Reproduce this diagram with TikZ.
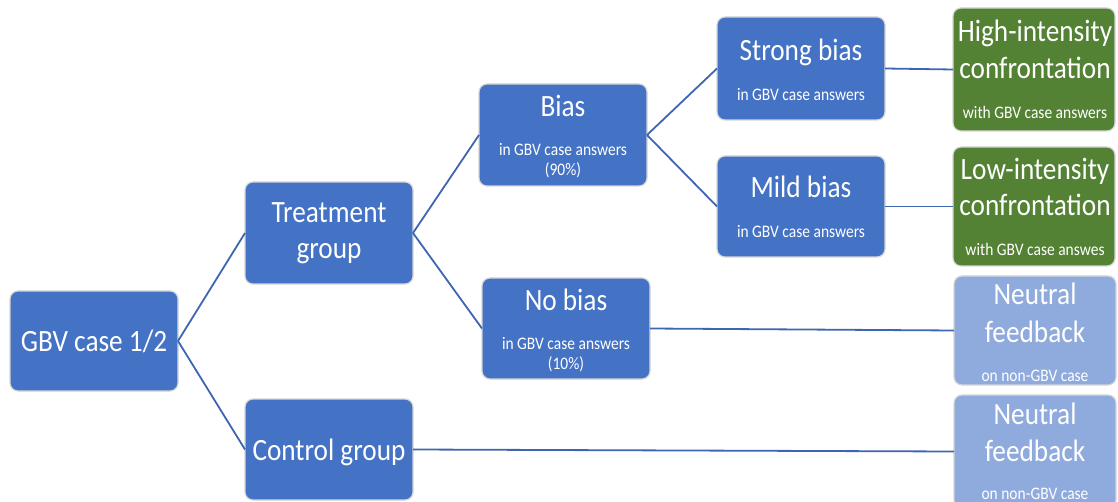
\documentclass[tikz,border=0pt]{standalone}
\usepackage{fontspec}
\setmainfont{Carlito}[FakeStretch=0.88]
\definecolor{boxblue}{HTML}{4472C4}
\definecolor{boxgreen}{HTML}{548235}
\definecolor{boxlight}{HTML}{8FAADC}
\definecolor{linkblue}{HTML}{3E66B0}
\definecolor{rim}{HTML}{D6D6D6}
\begin{document}
\begin{tikzpicture}[x=1pt,y=-1pt,
  box/.style={draw=rim, line width=1.2pt, rounded corners=8pt, fill=boxblue,
    inner sep=0pt, outer sep=0pt, minimum width=168pt},
  greenbox/.style={box, fill=boxgreen, minimum width=162pt},
  lightbox/.style={box, fill=boxlight, minimum width=162pt},
  big/.style={anchor=base, inner sep=0pt, text=white, font=\fontsize{31}{37}\selectfont},
  small/.style={anchor=base, inner sep=0pt, text=white, font=\fontsize{17.6}{21}\selectfont},
  link/.style={draw=linkblue, line width=1.8pt}]
\useasboundingbox (0,0) rectangle (1118,502);
% boxes
\node[box, minimum height=100pt] (gbv) at (94,341) {};
\node[box, minimum height=102pt] (treat) at (329,233) {};
\node[box, minimum height=101pt] (ctrl) at (329,449.5) {};
\node[box, minimum height=102pt] (bias) at (563,135) {};
\node[box, minimum height=101pt] (nobias) at (566,328.5) {};
\node[box, minimum height=103pt] (strong) at (801,68.5) {};
\node[box, minimum height=101pt] (mild) at (801,206.5) {};
\node[greenbox, minimum height=123pt] (high) at (1034,69.5) {};
\node[greenbox, minimum height=119pt] (low) at (1034,206.5) {};
\node[lightbox, minimum height=109pt] (neut1) at (1035,330.5) {};
\node[lightbox, minimum height=113pt] (neut2) at (1035,451.5) {};
% connectors
\draw[link] (gbv.east) -- (treat.west);
\draw[link] (gbv.east) -- (ctrl.west);
\draw[link] (treat.east) -- (bias.west);
\draw[link] (treat.east) -- (nobias.west);
\draw[link] (bias.east) -- (strong.west);
\draw[link] (bias.east) -- (mild.west);
\draw[link] (strong.east) -- (high.west);
\draw[link] (mild.east) -- (low.west);
\draw[link] (nobias.east) -- (neut1.west);
\draw[link] (ctrl.east) -- (neut2.west);
% texts
\node[big] (tgbv) at (94,351) {GBV case 1/2};
\node[big] (ttreat1) at (329,223) {Treatment};
\node[big] (ttreat2) at (329,259) {group};
\node[big] (tctrl) at (329,460) {Control group};
\node[big] (tbias) at (563,117) {Bias};
\node[small] (tbias2) at (563,156) {in GBV case answers};
\node[small] (tbias3) at (563,176) {(90\%)};
\node[big] (tnobias) at (566,310) {No bias};
\node[small] (tnobias2) at (566,349) {in GBV case answers};
\node[small] (tnobias3) at (566,369) {(10\%)};
\node[big] (tstrong) at (801,61) {Strong bias};
\node[small] (tstrong2) at (801,101) {in GBV case answers};
\node[big] (tmild) at (801,198) {Mild bias};
\node[small] (tmild2) at (801,238) {in GBV case answers};
\node[big] (thigh1) at (1035,42) {High-intensity};
\node[big] (thigh2) at (1035,79) {confrontation};
\node[small] (thigh3) at (1035,119) {with GBV case answers};
\node[big] (tlow1) at (1035,180) {Low-intensity};
\node[big] (tlow2) at (1035,216) {confrontation};
\node[small] (tlow3) at (1035,256) {with GBV case answes};
\node[big] (tn1a) at (1035,305) {Neutral};
\node[big] (tn1b) at (1035,342) {feedback};
\node[small] (tn1c) at (1035,381) {on non-GBV case};
\node[big] (tn2a) at (1035,424) {Neutral};
\node[big] (tn2b) at (1035,461) {feedback};
\node[small] (tn2c) at (1035,499) {on non-GBV case};
\end{tikzpicture}
\end{document}
